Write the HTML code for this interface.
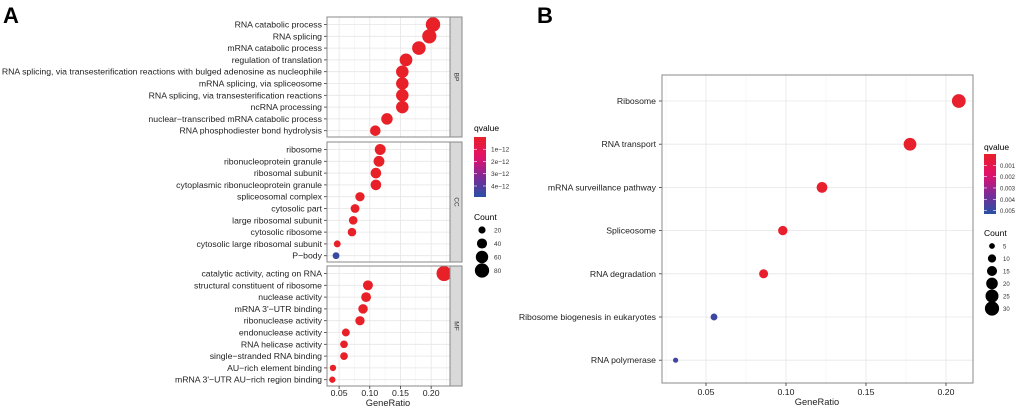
<!DOCTYPE html>
<html><head><meta charset="utf-8"><style>
body{margin:0;background:#fff;}
svg{display:block;font-family:"Liberation Sans",Arial,sans-serif;}
</style></head><body>
<svg id="c" width="1020" height="410"></svg>
<script>
// ---- Panel A data ----
const bpTerms=["RNA catabolic process","RNA splicing","mRNA catabolic process","regulation of translation","RNA splicing, via transesterification reactions with bulged adenosine as nucleophile","mRNA splicing, via spliceosome","RNA splicing, via transesterification reactions","ncRNA processing","nuclear−transcribed mRNA catabolic process","RNA phosphodiester bond hydrolysis"];
const bpRatio=[0.203,0.197,0.180,0.159,0.153,0.153,0.153,0.153,0.128,0.109];
const bpQ=[1e-14,1e-14,1e-14,1e-14,1e-14,1e-14,1e-14,1e-14,1e-14,1e-14];
const ccTerms=["ribosome","ribonucleoprotein granule","ribosomal subunit","cytoplasmic ribonucleoprotein granule","spliceosomal complex","cytosolic part","large ribosomal subunit","cytosolic ribosome","cytosolic large ribosomal subunit","P−body"];
const ccRatio=[0.117,0.115,0.110,0.110,0.084,0.076,0.073,0.071,0.047,0.045];
const ccQ=[1e-14,1e-14,1e-14,1e-14,1e-14,1e-14,1e-14,1e-14,1e-14,4.6e-12];
const mfTerms=["catalytic activity, acting on RNA","structural constituent of ribosome","nuclease activity","mRNA 3'−UTR binding","ribonuclease activity","endonuclease activity","RNA helicase activity","single−stranded RNA binding","AU−rich element binding","mRNA 3'−UTR AU−rich region binding"];
const mfRatio=[0.221,0.097,0.094,0.089,0.084,0.061,0.058,0.058,0.040,0.039];
const mfQ=[1e-14,1e-14,1e-14,1e-14,1e-14,1e-14,1e-14,1e-14,1e-14,1e-14];
const aTicks=[0.05,0.10,0.15,0.20];
const aTickLabels=["0.05","0.10","0.15","0.20"];
const aQTicks=[1e-12,2e-12,3e-12,4e-12];
const aQLabels=["1e−12","2e−12","3e−12","4e−12"];
const aCountTicks=[20,40,60,80];
// ---- Panel B data ----
const bTerms=["Ribosome","RNA transport","mRNA surveillance pathway","Spliceosome","RNA degradation","Ribosome biogenesis in eukaryotes","RNA polymerase"];
const bRatio=[0.208,0.1775,0.1225,0.098,0.086,0.055,0.031];
const bCount=[28,24,17,13,12,7,4];
const bQ=[0.0001,0.0001,0.0001,0.0001,0.0001,0.0049,0.0048];
const bTicks=[0.05,0.10,0.15,0.20];
const bTickLabels=["0.05","0.10","0.15","0.20"];
const bQTicks=[0.001,0.002,0.003,0.004,0.005];
const bQLabels=["0.001","0.002","0.003","0.004","0.005"];
const bCountTicks=[5,10,15,20,25,30];

const NS="http://www.w3.org/2000/svg";
const svg=document.getElementById('c');
function mk(tag,attrs,parent,text){const e=document.createElementNS(NS,tag);for(const k in attrs)e.setAttribute(k,attrs[k]);if(text!==undefined)e.textContent=text;(parent||svg).appendChild(e);return e;}
const stops=[[0,[232,32,40]],[0.35,[226,16,110]],[0.65,[130,40,150]],[1,[40,80,165]]];
function col(t){t=Math.max(0,Math.min(1,t));for(let i=1;i<stops.length;i++){if(t<=stops[i][0]){const a=stops[i-1],b=stops[i];const f=(t-a[0])/(b[0]-a[0]);const c=a[1].map((v,j)=>Math.round(v+(b[1][j]-v)*f));return `rgb(${c[0]},${c[1]},${c[2]})`;}}return 'rgb(40,80,165)';}
function grad(id){const d=mk('defs',{});const g=mk('linearGradient',{id:id,x1:0,y1:0,x2:0,y2:1},d);for(let i=0;i<=10;i++)mk('stop',{offset:i/10,'stop-color':col(i/10)},g);}
grad('ga');grad('gb');

// ---- Panel A ----
const aX0=327,aX1=450,aD0=0.0303,aD1=0.2307;
const ax=v=>aX0+(v-aD0)/(aD1-aD0)*(aX1-aX0);
const aQmax=4.9e-12;
const aR=c=>0.8*Math.sqrt(c);
mk('text',{x:3,y:23,'font-size':22,'font-weight':'bold'},svg,'A');
const facets=[["BP",bpTerms,bpRatio,bpQ,17],["CC",ccTerms,ccRatio,ccQ,142],["MF",mfTerms,mfRatio,mfQ,266]];
facets.forEach(([name,terms,ratio,q,top])=>{
  const g=mk('g',{});
  
  
  const h=120;
  mk('rect',{x:aX0,y:top,width:aX1-aX0,height:h,fill:'#fff'},g);
  for(let v=0.025;v<0.24;v+=0.05){const x=ax(v);if(x>aX0&&x<aX1)mk('line',{x1:x,x2:x,y1:top,y2:top+h,stroke:'#f2f2f2','stroke-width':0.6},g);}
  aTicks.forEach(v=>mk('line',{x1:ax(v),x2:ax(v),y1:top,y2:top+h,stroke:'#e6e6e6','stroke-width':0.8},g));
  terms.forEach((t,i)=>{const y=top+7.5+i*11.8;
    mk('line',{x1:aX0,x2:aX1,y1:y,y2:y,stroke:'#e6e6e6','stroke-width':0.8},g);
    mk('line',{x1:aX0-3,x2:aX0,y1:y,y2:y,stroke:'#333','stroke-width':0.8},g);
    const tl=mk('text',{x:aX0-5,y:y+3,'font-size':8.7,'text-anchor':'end',fill:'#222'},g,t);
    
    
  });
  terms.forEach((t,i)=>{const y=top+7.5+i*11.8;const c=ratio[i]*400;
    const d=mk('circle',{cx:ax(ratio[i]),cy:y,r:aR(c),fill:col(q[i]/aQmax)},g);
    
    
  });
  mk('rect',{x:aX0,y:top,width:aX1-aX0,height:h,fill:'none',stroke:'#888','stroke-width':1},g);
  mk('rect',{x:aX1,y:top,width:12,height:h,fill:'#d9d9d9',stroke:'#888','stroke-width':1},g);
  const st=mk('text',{x:aX1+6,y:top+h/2,'font-size':6.5,'text-anchor':'middle',transform:`rotate(90 ${aX1+6} ${top+h/2})`,fill:'#333','dominant-baseline':'middle'},g,name);
  
  
});
aTicks.forEach((v,i)=>{mk('line',{x1:ax(v),x2:ax(v),y1:386,y2:389,stroke:'#333','stroke-width':0.8});
  mk('text',{x:ax(v),y:396,'font-size':8.7,'text-anchor':'middle',fill:'#222'},svg,aTickLabels[i]);});
mk('text',{x:388,y:406,'font-size':9.3,'text-anchor':'middle',fill:'#222'},svg,'GeneRatio');
// legend A
mk('text',{x:474,y:131,'font-size':8.5},svg,'qvalue');
mk('rect',{x:474,y:137,width:12,height:60,fill:'url(#ga)'});
aQTicks.forEach((v,i)=>{const y=137+v/aQmax*60;mk('line',{x1:474,x2:477,y1:y,y2:y,stroke:'#fff','stroke-width':0.6});mk('line',{x1:483,x2:486,y1:y,y2:y,stroke:'#fff','stroke-width':0.6});
  mk('text',{x:491,y:y+2.5,'font-size':6.5,fill:'#333'},svg,aQLabels[i]);});
mk('text',{x:474,y:220,'font-size':8.5},svg,'Count');
aCountTicks.forEach((c,i)=>{const y=230+i*13.5;mk('circle',{cx:482,cy:y,r:aR(c),fill:'#000'});
  mk('text',{x:494,y:y+2.5,'font-size':6.5,fill:'#333'},svg,String(c));});

// ---- Panel B ----
const bX0=662,bX1=973,bY0=75,bY1=383;
const bx=v=>706+(v-0.05)*1600;
const bQmax=0.0053;
const bRr=c=>1.3*Math.sqrt(c);
mk('text',{x:537,y:23,'font-size':22,'font-weight':'bold'},svg,'B');
const gb=mk('g',{});


mk('rect',{x:bX0,y:bY0,width:bX1-bX0,height:bY1-bY0,fill:'#fff'},gb);
for(let v=0.025;v<0.23;v+=0.05){const x=bx(v);if(x>bX0&&x<bX1)mk('line',{x1:x,x2:x,y1:bY0,y2:bY1,stroke:'#f2f2f2','stroke-width':0.6},gb);}
bTicks.forEach(v=>mk('line',{x1:bx(v),x2:bx(v),y1:bY0,y2:bY1,stroke:'#e6e6e6','stroke-width':0.8},gb));
bTerms.forEach((t,i)=>{const y=101+i*43.2;
  mk('line',{x1:bX0,x2:bX1,y1:y,y2:y,stroke:'#e6e6e6','stroke-width':0.8},gb);
  mk('line',{x1:bX0-3,x2:bX0,y1:y,y2:y,stroke:'#333','stroke-width':0.8},gb);
  const tl=mk('text',{x:bX0-6,y:y+3,'font-size':8.7,'text-anchor':'end',fill:'#222'},gb,t);
  
  
});
bTerms.forEach((t,i)=>{const y=101+i*43.2;
  const d=mk('circle',{cx:bx(bRatio[i]),cy:y,r:bRr(bCount[i]),fill:col(bQ[i]/bQmax)},gb);
  
  
});
mk('rect',{x:bX0,y:bY0,width:bX1-bX0,height:bY1-bY0,fill:'none',stroke:'#888','stroke-width':1},gb);
bTicks.forEach((v,i)=>{mk('line',{x1:bx(v),x2:bx(v),y1:bY1,y2:bY1+3,stroke:'#333','stroke-width':0.8});
  mk('text',{x:bx(v),y:395,'font-size':8.7,'text-anchor':'middle',fill:'#222'},svg,bTickLabels[i]);});
mk('text',{x:817,y:405,'font-size':9.3,'text-anchor':'middle',fill:'#222'},svg,'GeneRatio');
// legend B
mk('text',{x:984,y:150,'font-size':8.5},svg,'qvalue');
mk('rect',{x:984,y:154,width:12,height:60,fill:'url(#gb)'});
bQTicks.forEach((v,i)=>{const y=154+v/bQmax*60;mk('line',{x1:984,x2:987,y1:y,y2:y,stroke:'#fff','stroke-width':0.6});mk('line',{x1:993,x2:996,y1:y,y2:y,stroke:'#fff','stroke-width':0.6});
  mk('text',{x:1000,y:y+2.5,'font-size':6,fill:'#333'},svg,bQLabels[i]);});
mk('text',{x:984,y:236,'font-size':8.5},svg,'Count');
bCountTicks.forEach((c,i)=>{const y=246+i*12.5;mk('circle',{cx:992,cy:y,r:bRr(c),fill:'#000'});
  mk('text',{x:1003,y:y+2.5,'font-size':6,fill:'#333'},svg,String(c));});
</script>
</body></html>
